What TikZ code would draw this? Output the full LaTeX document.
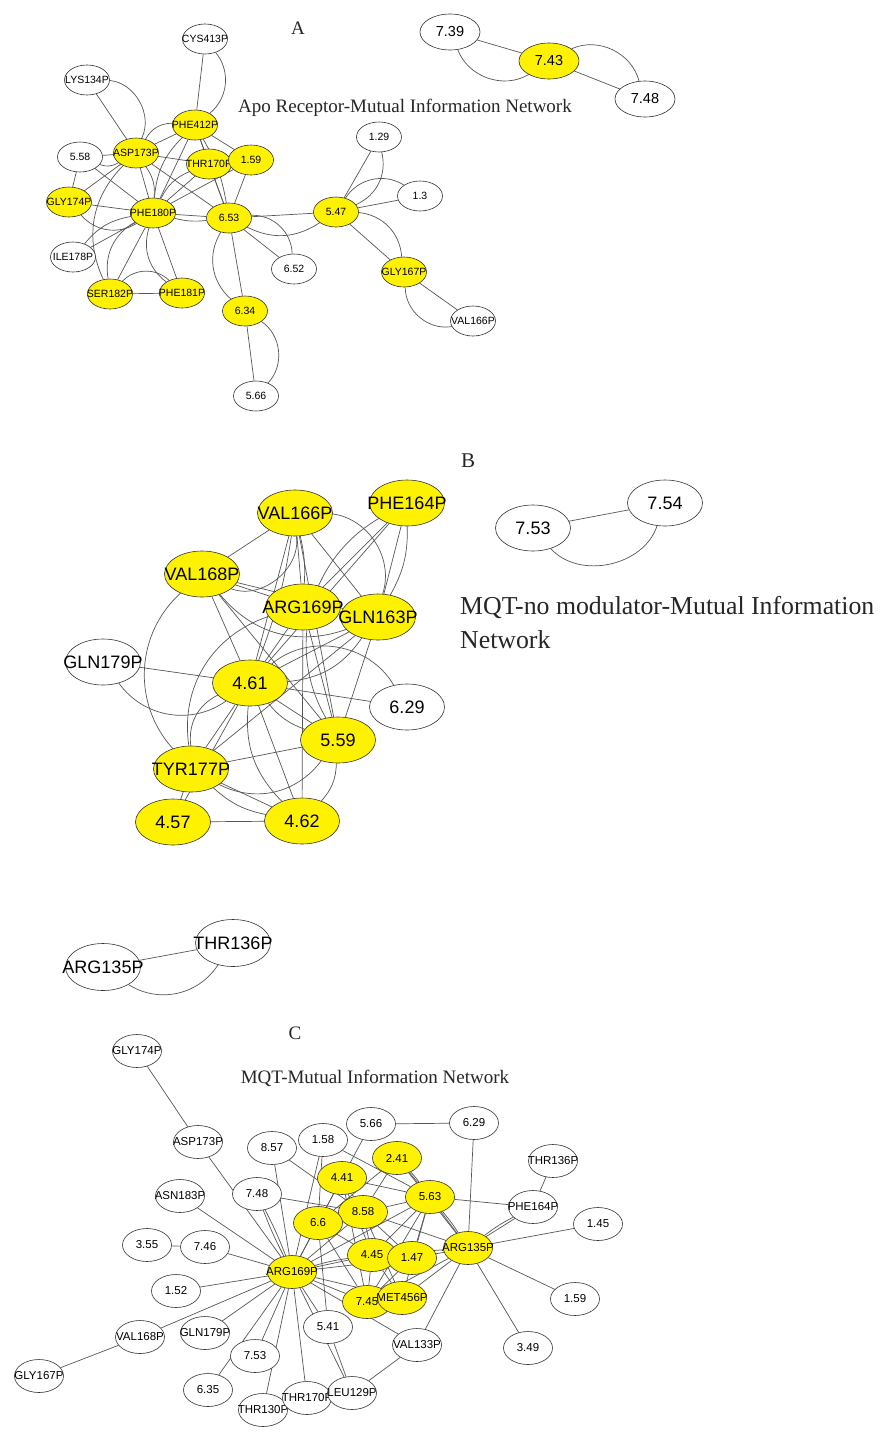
\documentclass[tikz,border=0pt]{standalone}
\usepackage{fontspec}
\setmainfont{Liberation Serif}
\newfontfamily\lsans{Liberation Sans}
\usetikzlibrary{shapes.geometric,backgrounds}
\newcommand{\gnode}[5]{\node[#1] (#2) at (#3,-#4) {\makebox[0pt]{#5}};}
\newcommand{\ed}[3][]{\draw[edg,#1] (#2) to (#3);}
\tikzset{
  nd/.style={ellipse, draw=black!80, line width=0.6pt, fill=white, inner sep=0pt, text=black},
  yl/.style={nd, fill=yellow},
  sa/.style={minimum width=45pt, minimum height=30pt, font=\lsans\fontsize{10.5}{10.5}\selectfont},
  sabig/.style={minimum width=60pt, minimum height=36pt, font=\lsans\fontsize{14.5}{14.5}\selectfont},
  sb/.style={minimum width=75pt, minimum height=46pt, font=\lsans\fontsize{18}{18}\selectfont},
  sc/.style={minimum width=49pt, minimum height=33pt, font=\lsans\fontsize{11.5}{11.5}\selectfont},
  scbig/.style={minimum width=75pt, minimum height=47pt, font=\lsans\fontsize{18}{18}\selectfont},
  edg/.style={draw=black!66, line width=0.7pt},
  ttl/.style={inner sep=0pt, text=black!85}
}
\begin{document}
\begin{tikzpicture}[x=1pt,y=1pt]
\useasboundingbox (0,0) rectangle (882,-1437);
% ---------------- Titles
\node[ttl, font=\fontsize{19}{19}\selectfont] (tA) at (298,-28) {A};
\node[ttl, font=\fontsize{19}{19}\selectfont] (tAt) at (405,-108) {Apo Receptor-Mutual Information Network};
\node[ttl, font=\fontsize{21}{21}\selectfont] (tB) at (468,-461) {B};
\node[ttl, anchor=west, font=\fontsize{25.8}{25.8}\selectfont] (tBt1) at (460,-608) {MQT-no modulator-Mutual Information};
\node[ttl, anchor=west, font=\fontsize{25.8}{25.8}\selectfont] (tBt2) at (460,-640) {Network};
\node[ttl, font=\fontsize{19}{19}\selectfont] (tC) at (295,-1033) {C};
\node[ttl, font=\fontsize{19}{19}\selectfont] (tCt) at (375,-1078) {MQT-Mutual Information Network};

% ---------------- Panel A nodes
\gnode{nd,sa}{A_cys}{205}{39}{CYS413P}
\gnode{nd,sa}{A_lys}{87}{80}{LYS134P}
\gnode{yl,sa}{A_phe412}{195}{125}{PHE412P}
\gnode{yl,sa}{A_asp173}{136}{153}{ASP173P}
\gnode{nd,sa}{A_558}{80}{157}{5.58}
\gnode{yl,sa}{A_thr170}{209}{164}{THR170P}
\gnode{yl,sa}{A_159}{251}{160}{1.59}
\gnode{yl,sa}{A_gly174}{69}{202}{GLY174P}
\gnode{yl,sa}{A_phe180}{153}{213}{PHE180P}
\gnode{yl,sa}{A_653}{229}{218}{6.53}
\gnode{nd,sa}{A_ile178}{73}{257}{ILE178P}
\gnode{yl,sa}{A_ser182}{110}{294}{SER182P}
\gnode{yl,sa}{A_phe181}{182}{293}{PHE181P}
\gnode{yl,sa}{A_634}{245}{311}{6.34}
\gnode{nd,sa}{A_652}{294}{269}{6.52}
\gnode{nd,sa}{A_566}{256}{396}{5.66}
\gnode{yl,sa}{A_547}{336}{212}{5.47}
\gnode{nd,sa}{A_129}{379}{137}{1.29}
\gnode{nd,sa}{A_13}{420}{196}{1.3}
\gnode{yl,sa}{A_gly167}{404}{272}{GLY167P}
\gnode{nd,sa}{A_val166}{473}{321}{VAL166P}
\gnode{nd,sabig}{A_739}{450}{32}{7.39}
\gnode{yl,sabig}{A_743}{549}{61}{7.43}
\gnode{nd,sabig}{A_748}{645}{99}{7.48}

% ---------------- Panel B nodes
\gnode{yl,sb}{B_v166}{295}{513}{VAL166P}
\gnode{yl,sb}{B_p164}{407}{503}{PHE164P}
\gnode{yl,sb}{B_v168}{202}{574}{VAL168P}
\gnode{yl,sb}{B_a169}{303}{607}{ARG169P}
\gnode{yl,sb}{B_g163}{378}{617}{GLN163P}
\gnode{nd,sb}{B_g179}{103}{662}{GLN179P}
\gnode{yl,sb}{B_461}{250}{683}{4.61}
\gnode{nd,sb}{B_629}{407}{707}{6.29}
\gnode{yl,sb}{B_559}{338}{740}{5.59}
\gnode{yl,sb}{B_t177}{191}{769}{TYR177P}
\gnode{yl,sb}{B_457}{173}{822}{4.57}
\gnode{yl,sb}{B_462}{302}{821}{4.62}
\gnode{nd,sb}{B_753}{533}{528}{7.53}
\gnode{nd,sb}{B_754}{665}{503}{7.54}

% ---------------- Panel C nodes
\gnode{nd,scbig}{C_a135t}{103}{967}{ARG135P}
\gnode{nd,scbig}{C_t136t}{233}{943}{THR136P}
\gnode{nd,sc}{C_g174}{137}{1051}{GLY174P}
\gnode{nd,sc}{C_d173}{198}{1142}{ASP173P}
\gnode{nd,sc}{C_857}{272}{1148}{8.57}
\gnode{nd,sc}{C_748}{257}{1194}{7.48}
\gnode{nd,sc}{C_n183}{180}{1196}{ASN183P}
\gnode{nd,sc}{C_355}{147}{1245}{3.55}
\gnode{nd,sc}{C_746}{205}{1247}{7.46}
\gnode{nd,sc}{C_152}{176}{1291}{1.52}
\gnode{nd,sc}{C_v168}{140}{1337}{VAL168P}
\gnode{nd,sc}{C_q179}{205}{1333}{GLN179P}
\gnode{nd,sc}{C_g167}{39}{1376}{GLY167P}
\gnode{nd,sc}{C_753}{255}{1356}{7.53}
\gnode{nd,sc}{C_635}{208}{1390}{6.35}
\gnode{nd,sc}{C_t130}{263}{1410}{THR130P}
\gnode{nd,sc}{C_t170}{307}{1398}{THR170P}
\gnode{nd,sc}{C_l129}{352}{1393}{LEU129P}
\gnode{nd,sc}{C_541}{328}{1327}{5.41}
\gnode{nd,sc}{C_v133}{417}{1345}{VAL133P}
\gnode{nd,sc}{C_158}{323}{1140}{1.58}
\gnode{nd,sc}{C_566}{371}{1124}{5.66}
\gnode{nd,sc}{C_629}{474}{1123}{6.29}
\gnode{nd,sc}{C_t136}{553}{1161}{THR136P}
\gnode{nd,sc}{C_p164}{533}{1207}{PHE164P}
\gnode{nd,sc}{C_145}{598}{1224}{1.45}
\gnode{nd,sc}{C_159}{575}{1299}{1.59}
\gnode{nd,sc}{C_349}{528}{1348}{3.49}
\gnode{yl,sc}{C_r169}{292}{1272}{ARG169P}
\gnode{yl,sc}{C_241}{397}{1158}{2.41}
\gnode{yl,sc}{C_441}{342}{1178}{4.41}
\gnode{yl,sc}{C_563}{430}{1197}{5.63}
\gnode{yl,sc}{C_858}{363}{1212}{8.58}
\gnode{yl,sc}{C_66}{318}{1223}{6.6}
\gnode{yl,sc}{C_r135}{468}{1248}{ARG135P}
\gnode{yl,sc}{C_445}{372}{1255}{4.45}
\gnode{yl,sc}{C_147}{412}{1258}{1.47}
\gnode{yl,sc}{C_745}{367}{1302}{7.45}
\gnode{yl,sc}{C_m456}{402}{1298}{MET456P}

\begin{pgfonlayer}{background}
\fill[white] (0,0) rectangle (882,-1437);
% ---- Panel A edges
\ed{A_cys}{A_phe412}
\ed[bend left=45]{A_cys}{A_phe412}
\ed{A_lys}{A_asp173}
\ed[bend left=55]{A_lys}{A_asp173}
\ed{A_asp173}{A_phe412}
\ed[bend left=30]{A_asp173}{A_phe412}
\ed{A_asp173}{A_thr170}
\ed{A_asp173}{A_558}
\ed[bend right=25]{A_558}{A_asp173}
\ed{A_558}{A_gly174}
\ed{A_558}{A_phe180}
\ed{A_asp173}{A_gly174}
\ed{A_asp173}{A_phe180}
\ed[bend left=20]{A_asp173}{A_phe180}
\ed{A_asp173}{A_653}
\ed[bend right=35]{A_asp173}{A_ser182}
\ed{A_phe412}{A_phe180}
\ed[bend right=20]{A_phe412}{A_phe180}
\ed{A_phe412}{A_653}
\ed[bend left=10]{A_phe412}{A_653}
\ed{A_phe412}{A_159}
\ed{A_phe412}{A_thr170}
\ed{A_thr170}{A_phe180}
\ed[bend right=20]{A_thr170}{A_phe180}
\ed{A_thr170}{A_653}
\ed{A_159}{A_653}
\ed{A_159}{A_phe180}
\ed{A_gly174}{A_phe180}
\ed[bend right=40]{A_gly174}{A_phe180}
\ed{A_phe180}{A_ile178}
\ed[bend right=20]{A_phe180}{A_ile178}
\ed{A_phe180}{A_653}
\ed[bend right=10]{A_phe180}{A_653}
\ed{A_phe180}{A_ser182}
\ed{A_phe180}{A_phe181}
\ed[bend right=35]{A_phe180}{A_phe181}
\ed[bend right=35]{A_phe180}{A_ser182}
\ed{A_ser182}{A_phe181}
\ed[bend left=45]{A_ser182}{A_phe181}
\ed{A_653}{A_634}
\ed[bend right=40]{A_653}{A_634}
\ed{A_653}{A_652}
\ed[bend left=45]{A_653}{A_652}
\ed{A_653}{A_547}
\ed[bend right=30]{A_653}{A_547}
\ed{A_634}{A_566}
\ed[bend left=50]{A_634}{A_566}
\ed{A_547}{A_129}
\ed[bend right=40]{A_547}{A_129}
\ed{A_547}{A_13}
\ed[bend left=45]{A_547}{A_13}
\ed{A_547}{A_gly167}
\ed[bend left=40]{A_547}{A_gly167}
\ed{A_gly167}{A_val166}
\ed[bend right=50]{A_gly167}{A_val166}
\ed{A_739}{A_743}
\ed[bend right=50]{A_739}{A_743}
\ed{A_743}{A_748}
\ed[bend left=50]{A_743}{A_748}
% ---- Panel B edges
\ed{B_v166}{B_v168}
\ed[bend left=60]{B_v166}{B_v168}
\ed{B_v166}{B_a169}
\ed[bend left=8]{B_v166}{B_a169}
\ed{B_v166}{B_g163}
\ed[bend left=50]{B_v166}{B_g163}
\ed{B_v166}{B_461}
\ed[bend left=6]{B_v166}{B_461}
\ed{B_v166}{B_559}
\ed{B_p164}{B_a169}
\ed{B_p164}{B_g163}
\ed[bend left=15]{B_p164}{B_g163}
\ed{B_p164}{B_461}
\ed[bend right=45]{B_p164}{B_559}
\ed{B_v168}{B_a169}
\ed{B_v168}{B_g163}
\ed[bend right=35]{B_v168}{B_g163}
\ed{B_v168}{B_461}
\ed[bend right=45]{B_v168}{B_t177}
\ed{B_v168}{B_559}
\ed{B_a169}{B_461}
\ed{B_a169}{B_g163}
\ed{B_a169}{B_559}
\ed[bend right=40]{B_a169}{B_t177}
\ed{B_a169}{B_462}
\ed{B_g163}{B_461}
\ed[bend left=25]{B_g163}{B_461}
\ed{B_g163}{B_559}
\ed{B_g163}{B_t177}
\ed{B_g179}{B_461}
\ed[bend right=45]{B_g179}{B_461}
\ed{B_461}{B_629}
\ed[bend left=50]{B_461}{B_629}
\ed{B_461}{B_559}
\ed[bend right=15]{B_461}{B_559}
\ed{B_461}{B_t177}
\ed[bend right=35]{B_461}{B_t177}
\ed{B_461}{B_457}
\ed{B_461}{B_462}
\ed[bend right=25]{B_461}{B_462}
\ed{B_559}{B_t177}
\ed[bend left=40]{B_559}{B_t177}
\ed[bend left=20]{B_559}{B_462}
\ed{B_t177}{B_457}
\ed{B_t177}{B_462}
\ed[bend right=15]{B_t177}{B_462}
\ed{B_457}{B_462}
\ed{B_753}{B_754}
\ed[bend right=60]{B_753}{B_754}
% ---- Panel C edges
\ed{C_a135t}{C_t136t}
\ed[bend right=45]{C_a135t}{C_t136t}
\ed{C_g174}{C_d173}
\ed{C_d173}{C_r169}
\ed{C_n183}{C_r169}
\ed{C_857}{C_r169}
\ed{C_857}{C_858}
\ed[bend left=3]{C_748}{C_r169}
\ed[bend right=3]{C_748}{C_r169}
\ed{C_748}{C_858}
\ed{C_355}{C_746}
\ed{C_746}{C_r169}
\ed{C_152}{C_r169}
\ed{C_v168}{C_r169}
\ed{C_g167}{C_v168}
\ed{C_q179}{C_r169}
\ed{C_753}{C_r169}
\ed{C_635}{C_r169}
\ed{C_t130}{C_r169}
\ed{C_t170}{C_r169}
\ed{C_l129}{C_r169}
\ed{C_541}{C_r169}
\ed{C_541}{C_l129}
\ed{C_l129}{C_v133}
\ed{C_r169}{C_v133}
\ed{C_r169}{C_66}
\ed{C_r169}{C_441}
\ed{C_r169}{C_158}
\ed{C_r169}{C_858}
\ed{C_r169}{C_445}
\ed[bend left=4]{C_r169}{C_445}
\ed{C_r169}{C_147}
\ed{C_r169}{C_745}
\ed{C_r169}{C_m456}
\ed{C_r169}{C_563}
\ed{C_158}{C_66}
\ed{C_158}{C_563}
\ed{C_566}{C_441}
\ed{C_566}{C_629}
\ed{C_629}{C_r135}
\ed{C_241}{C_563}
\ed[bend left=4]{C_241}{C_563}
\ed{C_241}{C_858}
\ed{C_241}{C_66}
\ed{C_241}{C_r135}
\ed{C_441}{C_563}
\ed{C_441}{C_66}
\ed{C_441}{C_858}
\ed{C_441}{C_445}
\ed{C_441}{C_745}
\ed{C_858}{C_563}
\ed{C_858}{C_66}
\ed{C_858}{C_445}
\ed{C_858}{C_r135}
\ed{C_858}{C_147}
\ed{C_858}{C_m456}
\ed{C_563}{C_p164}
\ed{C_563}{C_r135}
\ed[bend left=4]{C_563}{C_r135}
\ed{C_563}{C_445}
\ed{C_563}{C_147}
\ed{C_563}{C_m456}
\ed{C_563}{C_745}
\ed{C_66}{C_445}
\ed{C_66}{C_745}
\ed{C_66}{C_541}
\ed{C_445}{C_147}
\ed{C_445}{C_745}
\ed{C_445}{C_m456}
\ed{C_445}{C_r135}
\ed{C_147}{C_r135}
\ed{C_147}{C_745}
\ed{C_r135}{C_p164}
\ed[bend left=5]{C_r135}{C_p164}
\ed{C_r135}{C_145}
\ed{C_r135}{C_159}
\ed{C_r135}{C_349}
\ed{C_r135}{C_v133}
\ed{C_r135}{C_m456}
\ed{C_r135}{C_745}
\ed{C_p164}{C_t136}
\end{pgfonlayer}
\end{tikzpicture}
\end{document}
